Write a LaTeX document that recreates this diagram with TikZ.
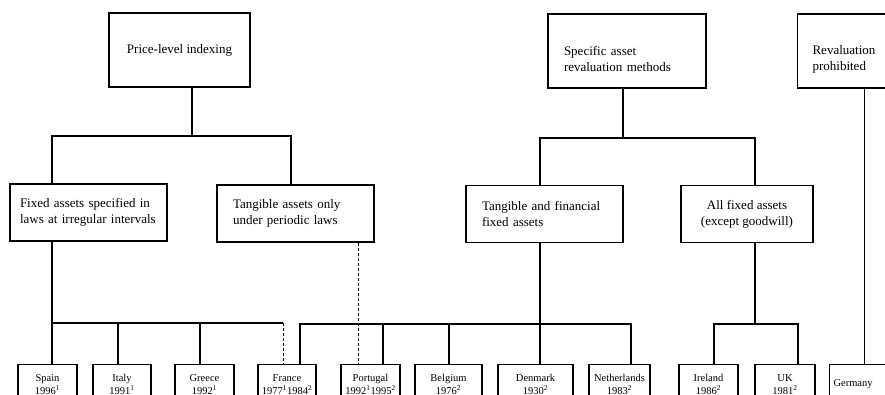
\documentclass[tikz,border=0pt]{standalone}
\usepackage{fontspec}
\setmainfont{Liberation Serif}
\tikzset{
  catbox/.style={draw, line width=1.1pt, align=left, inner xsep=16pt, inner ysep=2pt,
    font=\fontsize{13}{16}\selectfont},
  topbox/.style={catbox, minimum height=74pt},
  subbox/.style={catbox, minimum height=57pt},
  landbox/.style={draw, line width=1.1pt, anchor=north, align=center, inner xsep=1pt,
    minimum height=40pt, font=\fontsize{10.5}{13}\selectfont},
  tree/.style={line width=1.1pt},
  pathlink/.style={line width=0.9pt, dash pattern=on 3pt off 2pt}
}
\newcommand{\supa}{\textsuperscript{1}}
\newcommand{\supb}{\textsuperscript{2}}
\begin{document}
\begin{tikzpicture}[x=1pt, y=-1pt]
\useasboundingbox (0,0) rectangle (885,395);
\clip (0,0) rectangle (885,395);
\node[topbox, align=center, minimum width=141pt] (price) at (179.5,50) {Price-level indexing};
\node[topbox, text width=126pt, text height=25pt] (specific) at (627,51) {Specific asset\\revaluation methods};
\node[topbox, anchor=west, text width=70pt, inner xsep=15pt, text height=25pt] (reval) at (797,51) {Revaluation\\prohibited};
\node[subbox, text width=137pt, inner xsep=10pt] (fixed) at (88.5,212.5) {Fixed assets specified in\\laws at irregular intervals};
\node[subbox, text width=125pt] (tangonly) at (295.5,213.5) {Tangible assets only\\under periodic laws};
\node[subbox, text width=125pt] (tangfin) at (544.5,214) {Tangible and financial\\fixed assets};
\node[subbox, align=center, minimum width=132pt] (allfixed) at (747,214) {All fixed assets\\(except goodwill)};
\node[landbox, minimum width=59pt] (spain) at (47.5,364) {Spain\\1996\supa};
\node[landbox, minimum width=58pt] (italy) at (122,364) {Italy\\1991\supa};
\node[landbox, minimum width=59pt] (greece) at (204.5,364) {Greece\\1992\supa};
\node[landbox, minimum width=58pt] (france) at (287,364) {France\\1977\supa1984\supb};
\node[landbox, minimum width=59pt] (portugal) at (370.5,364) {Portugal\\1992\supa1995\supb};
\node[landbox, minimum width=67pt] (belgium) at (448.5,364) {Belgium\\1976\supb};
\node[landbox, minimum width=75pt] (denmark) at (535.5,364) {Denmark\\1930\supb};
\node[landbox, minimum width=61pt] (netherl) at (619.5,364) {Netherlands\\1983\supb};
\node[landbox, minimum width=59pt] (ireland) at (708.5,364) {Ireland\\1986\supb};
\node[landbox, minimum width=60pt] (uk) at (785,364) {UK\\1981\supb};
\node[landbox, anchor=north west, align=left, text width=62pt, inner xsep=4pt] (germany) at (829,364) {Germany};
\coordinate (pbus) at (192,136); \coordinate (pl) at (52,136); \coordinate (pr) at (291,136);
\coordinate (sbus) at (623,138); \coordinate (sl) at (540,138); \coordinate (sr) at (755,138);
\draw[tree] (price.south -| pbus) -- (pbus);
\draw[tree] (fixed.north -| pl) -- (pl) -- (pr) -- (tangonly.north -| pr);
\draw[tree] (specific.south -| sbus) -- (sbus);
\draw[tree] (tangfin.north -| sl) -- (sl) -- (sr) -- (allfixed.north -| sr);
\draw[tree] (reval.south -| germany.north) -- (germany.north);
\coordinate (ga) at (52,323); \coordinate (gi) at (118,323); \coordinate (gg) at (200,323); \coordinate (gb) at (283,323);
\draw[tree] (fixed.south -| ga) -- (spain.north -| ga);
\draw[tree] (ga) -- (gb);
\draw[tree] (gi) -- (italy.north -| gi);
\draw[tree] (gg) -- (greece.north -| gg);
\draw[pathlink] (gb) -- (france.north -| gb);
\coordinate (ha) at (300,324); \coordinate (hq) at (358,324); \coordinate (hp) at (383,324);
\coordinate (hb) at (449,324); \coordinate (hd) at (540,324); \coordinate (hn) at (631,324);
\draw[tree] (france.north -| ha) -- (ha) -- (hn) -- (netherl.north -| hn);
\draw[tree] (hp) -- (portugal.north -| hp);
\draw[tree] (hb) -- (belgium.north -| hb);
\draw[tree] (tangfin.south -| hd) -- (denmark.north -| hd);
\draw[pathlink] (tangonly.south -| hq) -- (portugal.north -| hq);
\coordinate (ka) at (714,324); \coordinate (kc) at (755,324); \coordinate (kb) at (798,324);
\draw[tree] (allfixed.south -| kc) -- (kc);
\draw[tree] (ireland.north -| ka) -- (ka) -- (kb) -- (uk.north -| kb);
\end{tikzpicture}
\end{document}
